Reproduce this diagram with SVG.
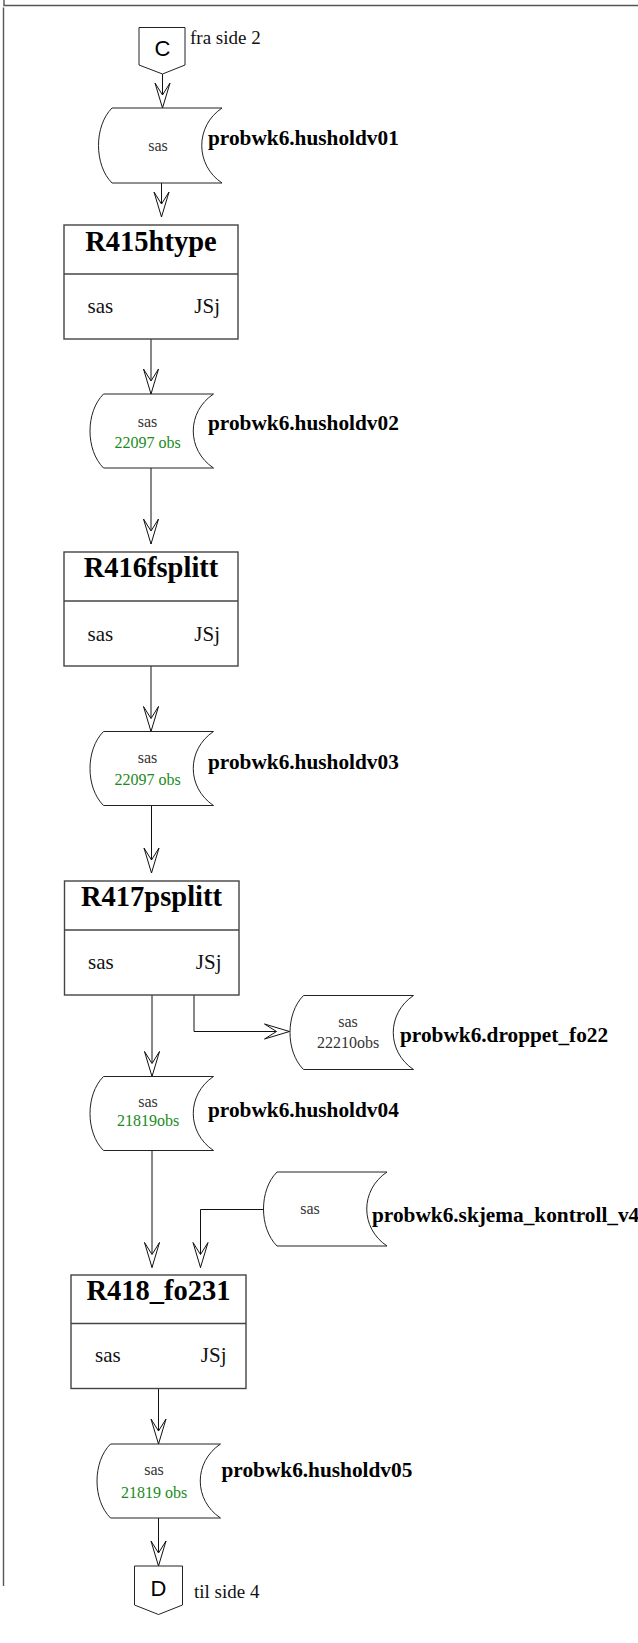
<svg xmlns="http://www.w3.org/2000/svg" width="638" height="1643" viewBox="0 0 638 1643">
<style>
.frame{fill:none;stroke:#555;stroke-width:1.4}
.box{fill:#fff;stroke:#444;stroke-width:1.4}
.cyl{fill:#fff;stroke:#222;stroke-width:1}
.off{fill:#fff;stroke:#222;stroke-width:1}
.con{fill:none;stroke:#111;stroke-width:1}
.title{font-family:"Liberation Serif",serif;font-weight:bold;font-size:28.5px;text-anchor:middle;fill:#000}
.btxt{font-family:"Liberation Serif",serif;font-size:21px;fill:#111}
.small{font-family:"Liberation Serif",serif;font-size:16px;text-anchor:middle;fill:#333}
.obs{font-family:"Liberation Serif",serif;font-size:16px;text-anchor:middle;fill:#1a8a1a}
.lbl{font-family:"Liberation Serif",serif;font-weight:bold;font-size:21.3px;fill:#000}
.pg{font-family:"Liberation Serif",serif;font-size:19px;fill:#111}
.cc{font-family:"Liberation Sans",sans-serif;font-size:22px;text-anchor:middle;fill:#000}
</style>
<defs>
<marker id="arr" markerUnits="userSpaceOnUse" viewBox="-1 -9 28 18" refX="25" refY="0" markerWidth="28" markerHeight="18" orient="auto">
<path d="M0,-7.5 L25,0 L0,7.5 L12,0 Z" fill="#fff" stroke="#111" stroke-width="1"/>
</marker>
</defs>
<rect width="638" height="1643" fill="#fff"/>
<g id="frame">
<path class="frame" d="M4,0 V5.5 H638"/>
<path class="frame" d="M3.5,7.5 V1586"/>
</g>
<g id="connectors">
<path class="con" d="M162.5,74 V108" marker-end="url(#arr)"/>
<path class="con" d="M161.5,183 V217" marker-end="url(#arr)"/>
<path class="con" d="M151,339 V394" marker-end="url(#arr)"/>
<path class="con" d="M151,468 V544" marker-end="url(#arr)"/>
<path class="con" d="M151,666 V731.5" marker-end="url(#arr)"/>
<path class="con" d="M151.5,805.5 V873" marker-end="url(#arr)"/>
<path class="con" d="M152,995 V1076.5" marker-end="url(#arr)"/>
<path class="con" d="M194,995 V1031.5 H289.5" marker-end="url(#arr)"/>
<path class="con" d="M152,1150.5 V1267.5" marker-end="url(#arr)"/>
<path class="con" d="M263,1209.5 H200.5 V1267.5" marker-end="url(#arr)"/>
<path class="con" d="M158.5,1388.5 V1444" marker-end="url(#arr)"/>
<path class="con" d="M158.5,1518 V1566" marker-end="url(#arr)"/>
</g>
<g id="offpage_C">
<polygon class="off" points="139,27.5 185,27.5 185,65 162.5,74 139,65"/>
<text class="cc" x="162.5" y="56">C</text>
<text class="pg" x="190" y="43.5">fra side 2</text>
</g>
<g id="ds_husholdv01">
<path class="cyl" d="M112,108 L222,108 C195,126 195,165 222,183 L112,183 C94,165 94,126 112,108 Z"/>
<text class="small" x="158" y="150.5">sas</text>
<text class="lbl" x="208" y="145">probwk6.husholdv01</text>
</g>
<g id="proc_R415htype">
<rect class="box" x="64" y="225" width="174" height="114"/>
<line class="box" x1="64" y1="274" x2="238" y2="274"/>
<text class="title" x="151" y="250.5">R415htype</text>
<text class="btxt" x="87.5" y="313">sas</text>
<text class="btxt" x="220" y="313" text-anchor="end">JSj</text>
</g>
<g id="ds_husholdv02">
<path class="cyl" d="M103.5,394 L213.5,394 C186.5,412 186.5,450 213.5,468 L103.5,468 C85.5,450 85.5,412 103.5,394 Z"/>
<text class="small" x="147.5" y="426.5">sas</text>
<text class="obs" x="147.5" y="448">22097 obs</text>
<text class="lbl" x="208" y="429.5">probwk6.husholdv02</text>
</g>
<g id="proc_R416fsplitt">
<rect class="box" x="64" y="552" width="174" height="114"/>
<line class="box" x1="64" y1="601" x2="238" y2="601"/>
<text class="title" x="151" y="577">R416fsplitt</text>
<text class="btxt" x="87.5" y="640.5">sas</text>
<text class="btxt" x="220" y="640.5" text-anchor="end">JSj</text>
</g>
<g id="ds_husholdv03">
<path class="cyl" d="M103.5,731.5 L213.5,731.5 C186.5,749.5 186.5,787.5 213.5,805.5 L103.5,805.5 C85.5,787.5 85.5,749.5 103.5,731.5 Z"/>
<text class="small" x="147.5" y="763">sas</text>
<text class="obs" x="147.5" y="784.5">22097 obs</text>
<text class="lbl" x="208" y="768.5">probwk6.husholdv03</text>
</g>
<g id="proc_R417psplitt">
<rect class="box" x="64.5" y="881" width="174.5" height="114"/>
<line class="box" x1="64.5" y1="930" x2="239" y2="930"/>
<text class="title" x="151.5" y="905.5">R417psplitt</text>
<text class="btxt" x="88" y="968.5">sas</text>
<text class="btxt" x="221.5" y="968.5" text-anchor="end">JSj</text>
</g>
<g id="ds_droppet_fo22">
<path class="cyl" d="M303.5,995.5 L413.5,995.5 C386.5,1013.5 386.5,1051.5 413.5,1069.5 L303.5,1069.5 C285.5,1051.5 285.5,1013.5 303.5,995.5 Z"/>
<text class="small" x="348" y="1027">sas</text>
<text class="small" x="348" y="1047.5">22210obs</text>
<text class="lbl" x="400" y="1042">probwk6.droppet_fo22</text>
</g>
<g id="ds_husholdv04">
<path class="cyl" d="M103.5,1076.5 L213.5,1076.5 C186.5,1094.5 186.5,1132.5 213.5,1150.5 L103.5,1150.5 C85.5,1132.5 85.5,1094.5 103.5,1076.5 Z"/>
<text class="small" x="148" y="1107">sas</text>
<text class="obs" x="148" y="1125.5">21819obs</text>
<text class="lbl" x="208" y="1116.5">probwk6.husholdv04</text>
</g>
<g id="ds_skjema_kontroll_v4">
<path class="cyl" d="M277,1172 L387,1172 C360,1190 360,1228 387,1246 L277,1246 C259,1228 259,1190 277,1172 Z"/>
<text class="small" x="310" y="1214">sas</text>
<text class="lbl" x="372" y="1221.5">probwk6.skjema_kontroll_v4</text>
</g>
<g id="proc_R418_fo231">
<rect class="box" x="71" y="1275" width="175" height="113.5"/>
<line class="box" x1="71" y1="1323.5" x2="246" y2="1323.5"/>
<text class="title" x="158.5" y="1300">R418_fo231</text>
<text class="btxt" x="95" y="1362">sas</text>
<text class="btxt" x="226.5" y="1362" text-anchor="end">JSj</text>
</g>
<g id="ds_husholdv05">
<path class="cyl" d="M110.5,1444 L220.5,1444 C193.5,1462 193.5,1500 220.5,1518 L110.5,1518 C92.5,1500 92.5,1462 110.5,1444 Z"/>
<text class="small" x="154" y="1475">sas</text>
<text class="obs" x="154" y="1497.5">21819 obs</text>
<text class="lbl" x="221.5" y="1476.5">probwk6.husholdv05</text>
</g>
<g id="offpage_D">
<polygon class="off" points="134.5,1566 182.5,1566 182.5,1605 158.5,1614.5 134.5,1605"/>
<text class="cc" x="158.5" y="1596">D</text>
<text class="pg" x="194" y="1597.5">til side 4</text>
</g>
</svg>
